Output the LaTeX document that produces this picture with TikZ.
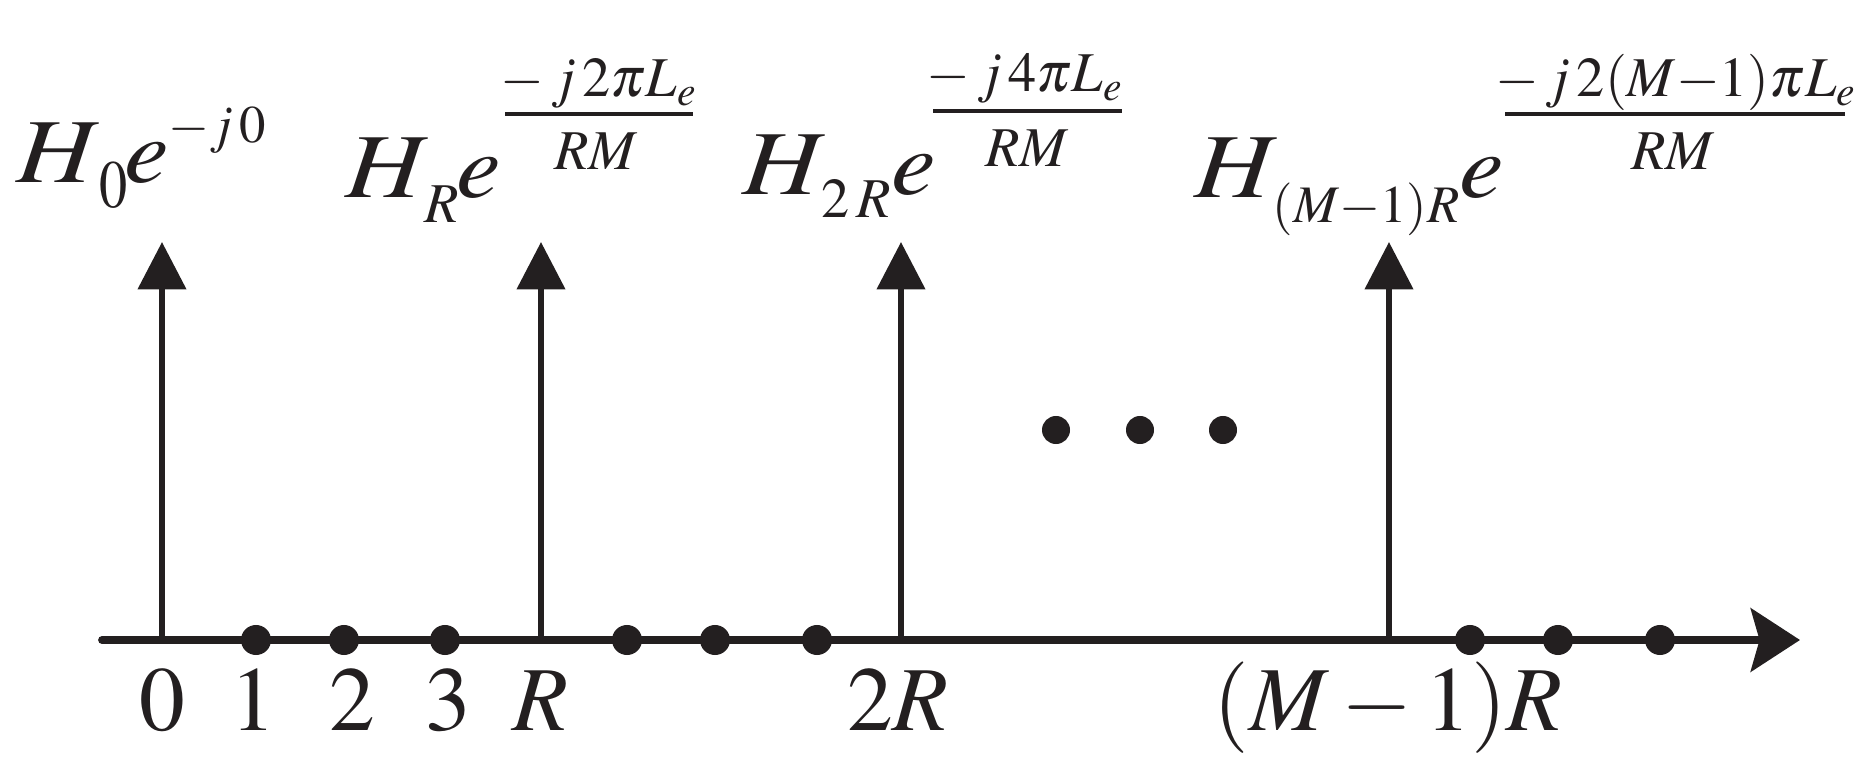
\documentclass[tikz,border=0pt]{standalone}
\usepackage{mathptmx}
\usepackage{graphicx}
\usetikzlibrary{arrows.meta}
\definecolor{ink}{HTML}{231F20}
\newcommand{\setfs}[1]{\fontsize{#1}{#1}\selectfont}
\newcommand{\wideH}{\scalebox{1.18}[1]{$H$}}
\newcommand{\widee}{\scalebox{1.1}[1]{$e$}}
\begin{document}
\begin{tikzpicture}[x=0.01cm,y=-0.01cm,
  every node/.style={inner sep=0pt,text=ink},
  lbl/.style={anchor=base west,inner sep=0pt},
  tick/.style={anchor=base,inner sep=0pt},
  fracpart/.style={anchor=base,inner sep=0pt},
  axisline/.style={draw=ink,line width=2.2pt,line cap=round,-{Stealth[length=14pt,width=18pt,inset=2.5pt]}},
  stemline/.style={draw=ink,line width=1.8pt,-{Triangle[length=13.5pt,width=13.5pt]}},
  fracbar/.style={draw=ink,line width=1.1pt},
  axdot/.style={circle,fill=ink,minimum size=0.30cm,inner sep=0pt},
  elldot/.style={circle,fill=ink,minimum size=0.28cm,inner sep=0pt}]
\useasboundingbox (0,0) rectangle (1872,776);

% axis
\coordinate (ax0) at (102,640);
\coordinate (ax1) at (1800,640);
\draw[axisline] (ax0) -- (ax1);

% stems
\coordinate (s0) at (162,640);  \coordinate (t0) at (162,242);
\coordinate (s1) at (541,640);  \coordinate (t1) at (541,242);
\coordinate (s2) at (901,640);  \coordinate (t2) at (901,242);
\coordinate (s3) at (1389,640); \coordinate (t3) at (1389,242);
\draw[stemline] (s0) -- (t0);
\draw[stemline] (s1) -- (t1);
\draw[stemline] (s2) -- (t2);
\draw[stemline] (s3) -- (t3);

% dots on the axis
\node[axdot] (d1) at (256,640) {};
\node[axdot] (d2) at (344,640) {};
\node[axdot] (d3) at (445,640) {};
\node[axdot] (d4) at (627,640) {};
\node[axdot] (d5) at (715,640) {};
\node[axdot] (d6) at (817,640) {};
\node[axdot] (d7) at (1470,640) {};
\node[axdot] (d8) at (1558,640) {};
\node[axdot] (d9) at (1660,640) {};

% ellipsis
\node[elldot] (e1) at (1056,430) {};
\node[elldot] (e2) at (1140,430) {};
\node[elldot] (e3) at (1223,430) {};

% tick labels
\node[tick] (l0) at (162,730) {\setfs{26}$0$};
\node[tick] (l1) at (253,730) {\setfs{26}$1$};
\node[tick] (l2) at (352,730) {\setfs{26}$2$};
\node[tick] (l3) at (448,730) {\setfs{26}$3$};
\node[tick] (lR) at (540,730) {\setfs{26}$R$};
\node[tick] (l2R) at (898,730) {\setfs{26}$2R$};
\node[tick] (lMR) at (1388,730) {\setfs{26}$(M-1)R$};

% label 1
\node[lbl] (h0) at (16,183) {\setfs{26}\wideH};
\node[lbl] (h0s) at (99,208) {\scalebox{1}[1.2]{\setfs{16}$0$}};
\node[lbl] (h0e) at (124,183) {\setfs{26}\widee};
\node[lbl] (h0x) at (168,143) {\setfs{15}$-j\,0$};

% label 2
\node[lbl] (h1) at (345,198) {\setfs{26}\wideH};
\node[lbl] (h1s) at (424,223) {\setfs{16}$R$};
\node[lbl] (h1e) at (456,198) {\setfs{26}\widee};
\node[fracpart] (n1) at (599,97) {\setfs{16}$-\,j\,2\pi L_{e}$};
\coordinate (b1a) at (505,114); \coordinate (b1b) at (693,114);
\draw[fracbar] (b1a) -- (b1b);
\node[fracpart] (m1) at (596,170) {\setfs{16}$RM$};

% label 3
\node[lbl] (h2) at (742,195) {\setfs{26}\wideH};
\node[lbl] (h2s) at (821,218) {\setfs{16}$2\,R$};
\node[lbl] (h2e) at (891,195) {\setfs{26}\widee};
\node[fracpart] (n2) at (1025,92) {\setfs{16}$-\,j\,4\pi L_{e}$};
\coordinate (b2a) at (933,111); \coordinate (b2b) at (1122,111);
\draw[fracbar] (b2a) -- (b2b);
\node[fracpart] (m2) at (1027,167) {\setfs{16}$RM$};

% label 4
\node[lbl] (h3) at (1194,198) {\setfs{26}\wideH};
\node[lbl] (h3s) at (1272,223) {\setfs{15}$(M{-}1)R$};
\node[lbl] (h3e) at (1459,198) {\setfs{26}\widee};
\node[fracpart] (n3) at (1676,97) {\setfs{16}$-\,j\,2(M{-}1)\pi L_{e}$};
\coordinate (b3a) at (1505,114); \coordinate (b3b) at (1845,114);
\draw[fracbar] (b3a) -- (b3b);
\node[fracpart] (m3) at (1673,170) {\setfs{16}$RM$};
\end{tikzpicture}
\end{document}
